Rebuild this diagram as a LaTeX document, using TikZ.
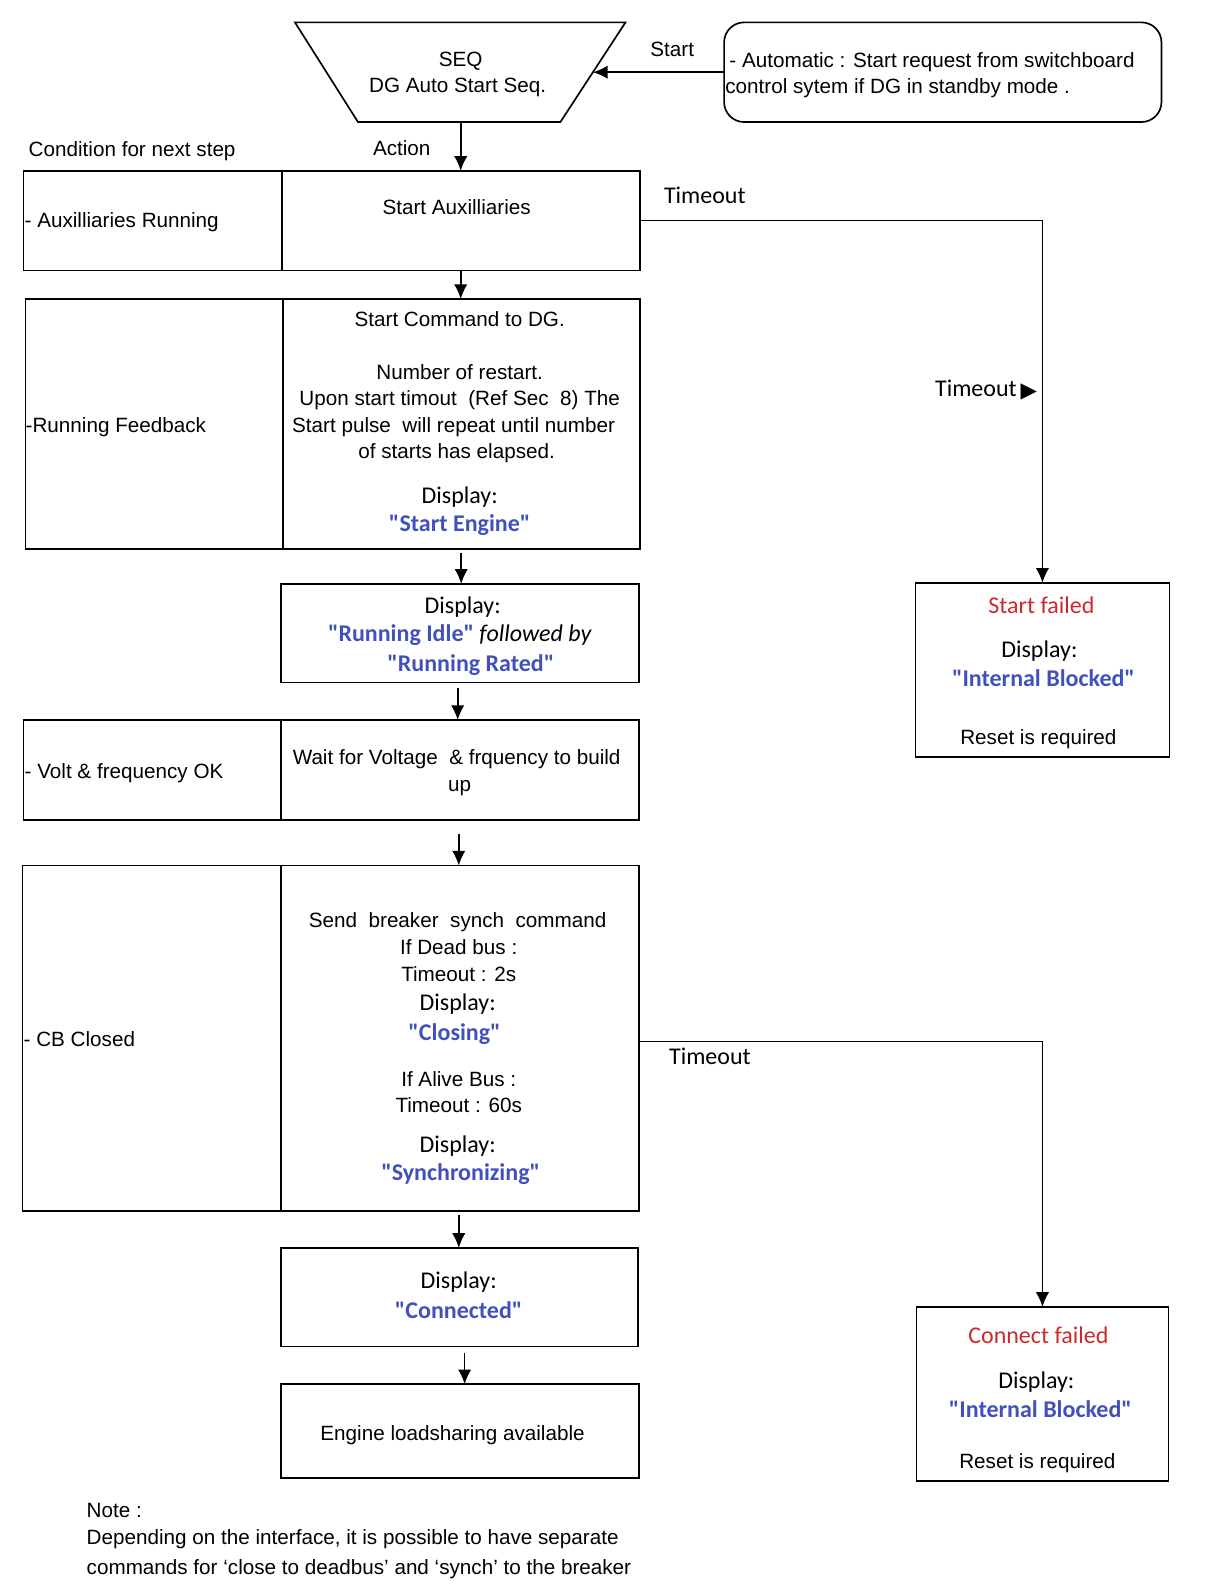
\documentclass[tikz,border=0pt]{standalone}
\usepackage{fontspec}
\setmainfont{Liberation Sans}
\newfontfamily\calfont{Carlito}
\newfontfamily\symfont{DejaVu Sans}
\usetikzlibrary{arrows.meta,fit}
\definecolor{dblue}{RGB}{64,80,188}
\definecolor{fred}{RGB}{204,40,46}
\newcommand\AR{\fontsize{15.5}{18}\selectfont}
\newcommand\CL{\calfont\fontsize{18}{21}\selectfont}
\begin{document}
\begin{tikzpicture}[x=0.7628pt,y=-0.7628pt,
  box/.style={draw, line width=1.25pt, inner sep=0pt, outer sep=0pt},
  ar/.style={font=\AR, inner sep=0pt, anchor=base},
  arl/.style={font=\AR, inner sep=0pt, anchor=base west},
  cl/.style={font=\CL, inner sep=0pt, anchor=base},
  clb/.style={font=\CL\bfseries, text=dblue, inner sep=0pt, anchor=base},
  failtxt/.style={font=\CL, text=fred, inner sep=0pt, anchor=base},
  arr/.style={-{Latex[length=11pt,width=10pt]}, line width=1.2pt},
  conn/.style={line width=1.25pt}]
\useasboundingbox (0,0) rectangle (1188.8,1568.3);

% start sequence trapezoid
\draw[conn] (290,22) -- (615,22) -- (551,120) -- (352,120) -- cycle;
\coordinate (seqR) at (583,71);
\coordinate (seqB) at (453,120);
\node[ar] (seq1) at (453,65) {SEQ};
\node[ar] (seq2) at (450,91) {DG Auto Start Seq.};

% automatic request box
\node[box, rounded corners=15pt, fit={(712,22) (1142,120)}] (auto) {};
\node[arl] (auto1) at (717,66) {- Automatic : Start request from switchboard};
\node[arl] (auto2) at (713,92) {control sytem if DG in standby mode .};
\node[ar] (startlbl) at (661,56) {Start};
\draw[arr] (auto.west) -- (seqR);

% headers
\node[arl] (hcond) at (28,154) {Condition for next step};
\node[ar] (hact) at (395,153) {Action};

% row 1
\node[box, fit={(23,168) (277,266)}] (c1) {};
\node[box, fit={(277,168) (629,266)}] (a1) {};
\node[arl] (c1t) at (24,224) {- Auxilliaries Running};
\node[ar] (a1t) at (449,211) {Start Auxilliaries};

% row 2
\node[box, fit={(25,294) (278,540)}] (c2) {};
\node[box, fit={(278,294) (629,540)}] (a2) {};
\node[arl] (c2t) at (25,425) {-Running Feedback};
\node[ar] (a2t1) at (452,321) {Start Command to DG.};
\node[ar] (a2t2) at (452,373) {Number of restart.};
\node[ar] (a2t3) at (452,399) {Upon start timout \ (Ref Sec \ 8) The};
\node[ar] (a2t4) at (446,425) {Start pulse \ will repeat until number};
\node[ar] (a2t5) at (449,451) {of starts has elapsed.};
\node[cl] (a2t6) at (452,495) {Display:};
\node[clb] (a2t7) at (452,523) {"Start Engine"};

% display box 3
\node[box, fit={(276,574) (628,671)}] (d3) {};
\node[cl] (d3t1) at (455,603) {Display:};
\node[cl] (d3t2) at (452,631) {\bfseries\color{dblue}"Running Idle" \mdseries\itshape\color{black}followed by};
\node[clb] (d3t3) at (463,660) {"Running Rated"};

% row 4
\node[box, fit={(23,708) (276,806)}] (c4) {};
\node[box, fit={(276,708) (628,806)}] (a4) {};
\node[arl] (c4t) at (24,765) {- Volt \& frequency OK};
\node[ar] (a4t1) at (449,752) {Wait for Voltage \ \& frquency to build};
\node[ar] (a4t2) at (452,778) {up};

% row 5
\node[box, fit={(22,851) (276,1191)}] (c5) {};
\node[box, fit={(276,851) (628,1191)}] (a5) {};
\node[arl] (c5t) at (23,1029) {- CB Closed};
\node[ar] (a5t1) at (450,912) {Send \ breaker \ synch \ command};
\node[ar] (a5t2) at (451,939) {If Dead bus :};
\node[ar] (a5t3) at (451,965) {Timeout : 2s};
\node[cl] (a5t4) at (450,994) {Display:};
\node[clb] (a5t5) at (447,1023) {"Closing"};
\node[ar] (a5t6) at (451,1068) {If Alive Bus :};
\node[ar] (a5t7) at (451,1094) {Timeout : 60s};
\node[cl] (a5t8) at (450,1133) {Display:};
\node[clb] (a5t9) at (453,1161) {"Synchronizing"};

% display box 6
\node[box, fit={(276,1227) (627,1324)}] (d6) {};
\node[cl] (d6t1) at (451,1267) {Display:};
\node[clb] (d6t2) at (451,1296) {"Connected"};

% engine box 7
\node[box, fit={(276,1361) (628,1453)}] (e7) {};
\node[ar] (e7t) at (445,1416) {Engine loadsharing available};

% start failed
\node[box, fit={(900,573) (1150,744)}] (sf) {};
\node[failtxt] (sft1) at (1024,603) {Start failed};
\node[cl] (sft2) at (1022,646) {Display:};
\node[clb] (sft3) at (1026,675) {"Internal Blocked"};
\node[ar] (sft4) at (1021,732) {Reset is required};

% connect failed
\node[box, fit={(901,1285) (1149,1456)}] (cf) {};
\node[failtxt] (cft1) at (1021,1321) {Connect failed};
\node[cl] (cft2) at (1019,1365) {Display:};
\node[clb] (cft3) at (1023,1394) {"Internal Blocked"};
\node[ar] (cft4) at (1020,1444) {Reset is required};

% note
\node[arl] (n1) at (85,1492) {Note :};
\node[arl] (n2) at (85,1519) {Depending on the interface, it is possible to have separate};
\node[arl] (n3) at (85,1548) {commands for ‘close to deadbus’ and ‘synch’ to the breaker};

% flow arrows
\draw[arr] (seqB) -- (seqB |- a1.north);
\draw[arr] (a1.south) -- (a1.south |- a2.north);
\draw[arr, shorten <=3pt] (a2.south) -- (a2.south |- d3.north);
\draw[arr, shorten <=4.5pt] ([xshift=-1.5pt]d3.south) -- ([xshift=-1.5pt]d3.south |- a4.north);
\draw[arr, shorten <=10.5pt] ([xshift=-0.7pt]a4.south) -- ([xshift=-0.7pt]a4.south |- a5.north);
\draw[arr, shorten <=3pt] ([xshift=-0.7pt]a5.south) -- ([xshift=-0.7pt]a5.south |- d6.north);
\draw[arr, shorten <=4.5pt] ([xshift=4.1pt]d6.south) -- ([xshift=4.1pt]d6.south |- e7.north);

% timeout branches
\draw[arr] (a1.east) -- (a1.east -| sf.north) -- (sf.north);
\node[cl] (to1) at (693,200) {Timeout};
\node[cl, anchor=base east] (to2) at (1020,390) {Timeout\,{\symfont\fontsize{16}{18}\selectfont\raisebox{-0.5pt}{▶}}};
\draw[arr] ([yshift=-2.2pt]a5.east) -- ([yshift=-2.2pt]a5.east -| cf.north) -- (cf.north);
\node[cl] (to3) at (698,1047) {Timeout};
\end{tikzpicture}
\end{document}
